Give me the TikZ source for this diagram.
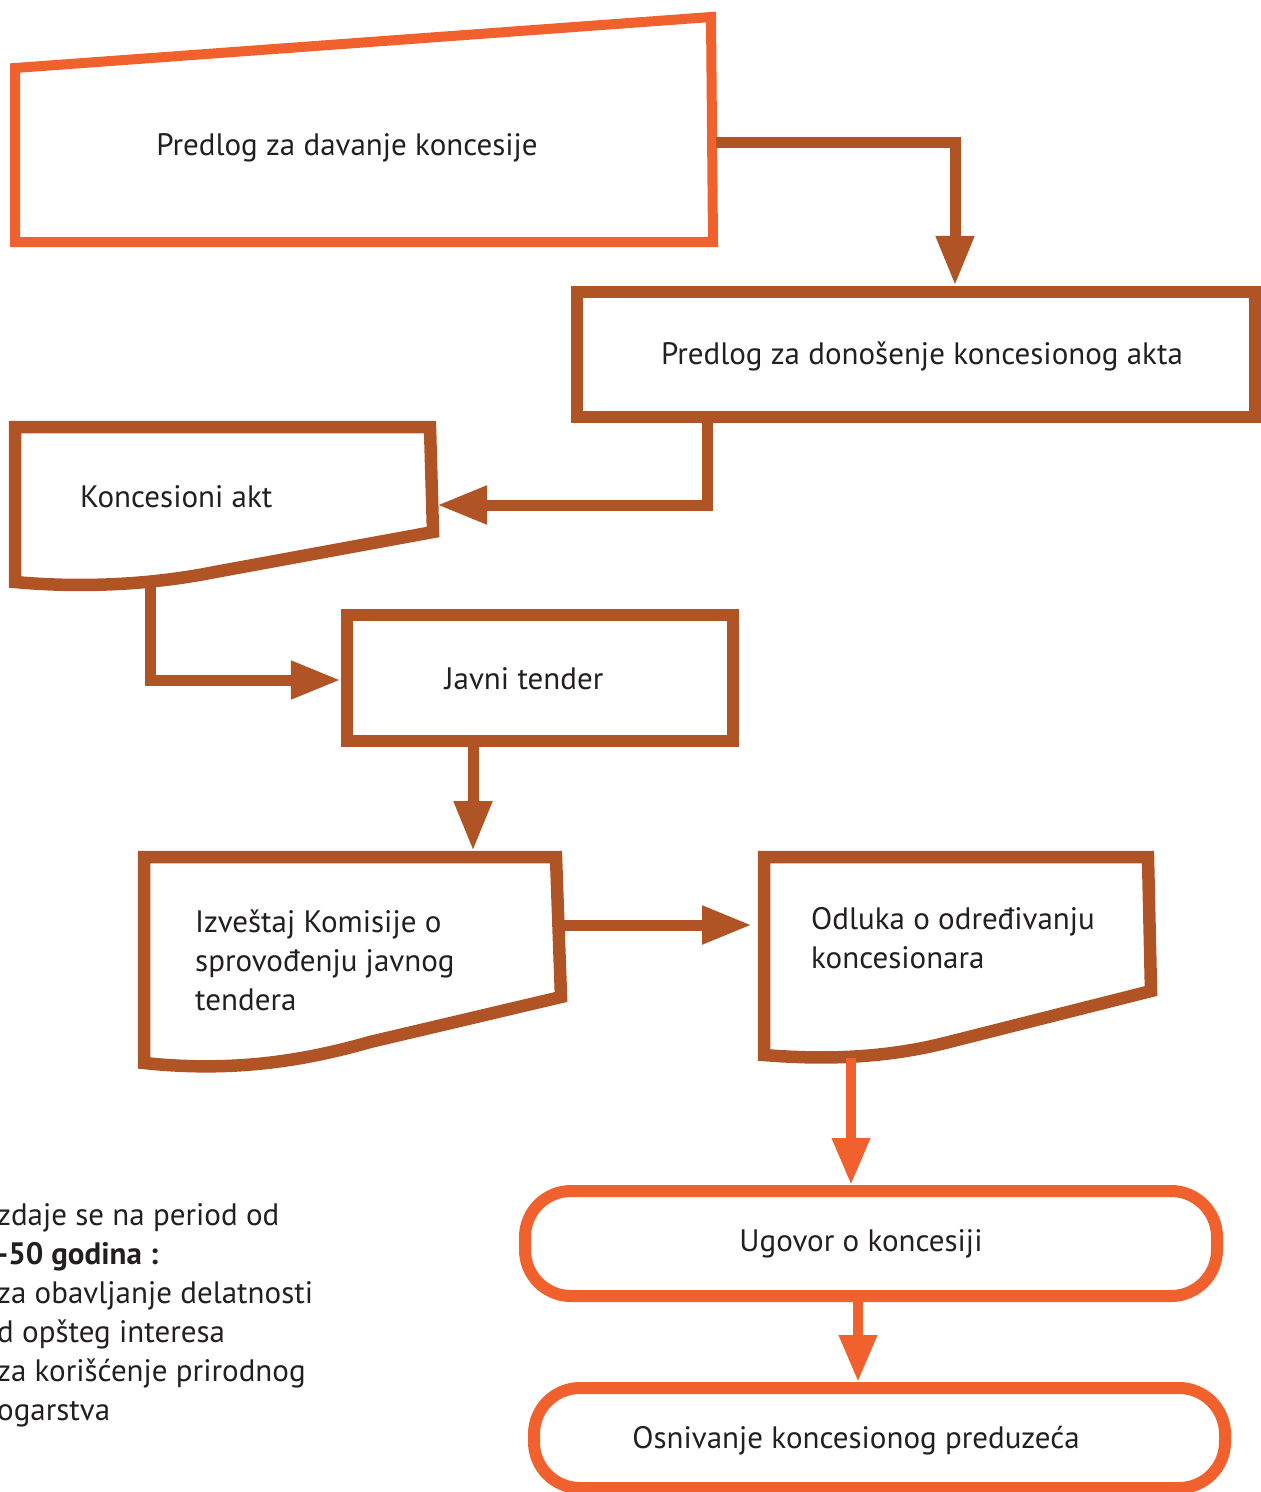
\documentclass[tikz,border=0pt]{standalone}
\usepackage{fontspec}
\setmainfont{PT Sans}
\usetikzlibrary{arrows.meta}
\definecolor{org}{RGB}{241,97,45}
\definecolor{brn}{RGB}{176,84,38}
\definecolor{txt}{RGB}{35,31,32}
\tikzset{
  obox/.style={draw=org,line width=10pt,line join=miter},
  bbox/.style={draw=brn,line width=12.5pt,line join=miter},
  rbox/.style={draw=org,line width=12pt,rounded corners=46pt,inner sep=0pt},
  bconn/.style={draw=brn,line width=11pt,-{Triangle[length=50pt,width=36pt]}},
  oconn/.style={draw=org,line width=10pt,-{Triangle[length=47pt,width=36pt]}},
  lbl/.style={text=txt,font=\fontsize{31}{39}\selectfont,inner sep=0pt}
}
\begin{document}
\begin{tikzpicture}[x=1pt,y=-1pt]
\useasboundingbox (0,0) rectangle (1261,1492);

% Box 1
\draw[obox] (15,68) -- (711,17) -- (713,242) -- (15,242) -- cycle;
\node[lbl] (t1) at (347,148) {Predlog za davanje koncesije};
\coordinate (b1out) at (716,142);
\coordinate (c1) at (955,142);

% Box 2
\node[bbox,minimum width=678pt,minimum height=125pt,inner sep=0pt] (b2) at (916,354.5) {};
\node[lbl] (t2) at (922,356) {Predlog za donošenje koncesionog akta};

% Box 3
\draw[bbox] (15,582) -- (15,427) -- (430,427) -- (433,532) -- (215,572)
  .. controls (150,585) and (80,588) .. (15,582) -- cycle;
\node[lbl,anchor=west] (t3) at (80,497) {Koncesioni akt};
\coordinate (b3e) at (437,505);
\coordinate (b3b) at (150,578);
\coordinate (k2) at (707,505);

% Box 4
\node[bbox,minimum width=386pt,minimum height=126pt,inner sep=0pt] (b4) at (540,678) {};
\node[lbl] (t4) at (524,679) {Javni tender};
\coordinate (k4) at (473,741);

% Box 5
\draw[bbox] (144,1063) -- (144,857) -- (556,857) -- (561,997) -- (370,1042)
  .. controls (300,1062) and (230,1072) .. (144,1063) -- cycle;
\node[lbl,anchor=west,align=left] (t5) at (195,960) {Izveštaj Komisije o\\sprovođenju javnog\\tendera};
\coordinate (b5top) at (473,851);
\coordinate (b5e) at (561,925);

% Box 6
\draw[bbox] (764,1055) -- (764,857) -- (1148,857) -- (1151,991) -- (945,1043)
  .. controls (885,1058) and (825,1060) .. (764,1055) -- cycle;
\node[lbl,anchor=west,align=left] (t6) at (811,938) {Odluka o određivanju\\koncesionara};
\coordinate (b6w) at (752,925);
\coordinate (b6b) at (851,1058);

% Box 7
\node[rbox,minimum width=692pt,minimum height=105pt] (b7) at (871,1243.5) {};
\node[lbl] (t7) at (861,1244) {Ugovor o koncesiji};
\coordinate (k7) at (858,1297);

% Box 8
\node[rbox,minimum width=691pt,minimum height=100pt] (b8) at (879.5,1438) {};
\node[lbl] (t8) at (856,1441) {Osnivanje koncesionog preduzeća};

% Side text
\node[lbl,anchor=west,align=left] (side) at (-3,1315) {zdaje se na period od\\\textbf{-50 godina :}\\za obavljanje delatnosti\\d opšteg interesa\\za korišćenje prirodnog\\ogarstva};

% Connectors
\draw[bconn] (b1out) -| (b2.north -| c1);
\draw[bconn] (b2.south -| k2) |- (b3e);
\draw[bconn] (b3b) |- (b4.west |- 0,680);
\draw[bconn] (k4) -- (b5top);
\draw[bconn] (b5e) -- (b6w);
\draw[oconn] (b6b) -- (b7.north -| b6b);
\draw[oconn] (k7) -- (b8.north -| k7);
\end{tikzpicture}
\end{document}
